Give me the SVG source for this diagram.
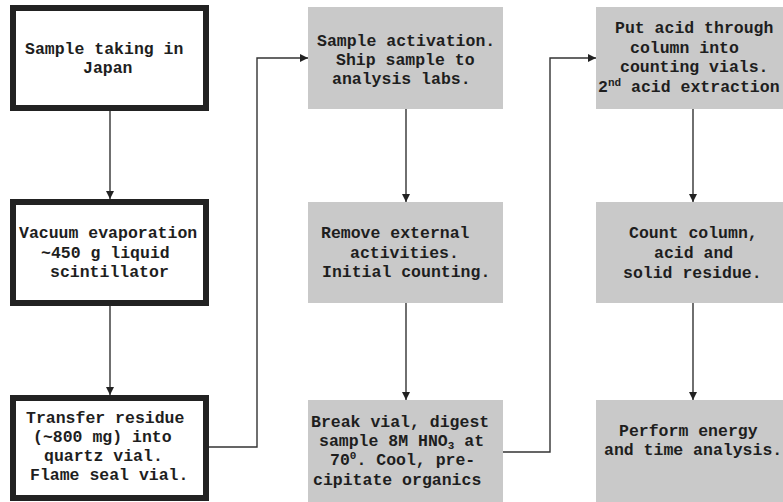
<svg xmlns="http://www.w3.org/2000/svg" width="783" height="502" viewBox="0 0 783 502">
<style>
.t{font-family:"Liberation Mono","Courier New",monospace;font-weight:bold;font-size:16.5px;fill:#1e1e1e}
.w{fill:#fff;stroke:#222;stroke-width:6}
.g{fill:#c9c9c9;stroke:none}
.c{fill:none;stroke:#333;stroke-width:1.4}
.s{font-size:11px}
</style>
<defs>
<marker id="ah" markerUnits="userSpaceOnUse" markerWidth="8" markerHeight="8" viewBox="0 0 8 8" refX="8" refY="4" orient="auto">
<path d="M0,0 L8,4 L0,8 Z" fill="#222"/>
</marker>
</defs>
<g id="connectors">
<path class="c" d="M110,111 V199" marker-end="url(#ah)"/>
<path class="c" d="M110,306 V395" marker-end="url(#ah)"/>
<path class="c" d="M209,447 H257 V58 H308" marker-end="url(#ah)"/>
<path class="c" d="M406,109 V202" marker-end="url(#ah)"/>
<path class="c" d="M406,303 V400" marker-end="url(#ah)"/>
<path class="c" d="M503,452 H550 V58 H596" marker-end="url(#ah)"/>
<path class="c" d="M693,109 V202" marker-end="url(#ah)"/>
<path class="c" d="M693,303 V400" marker-end="url(#ah)"/>
</g>
<g id="n1">
<rect class="w" x="13" y="8" width="193" height="100"/>
<text class="t"><tspan x="25" y="54">Sample taking in</tspan><tspan x="83" y="73">Japan</tspan></text>
</g>
<g id="n2">
<rect class="w" x="13" y="202" width="193" height="101"/>
<text class="t"><tspan x="19" y="238">Vacuum evaporation</tspan><tspan x="41" y="258">~450 g liquid</tspan><tspan x="50" y="277">scintillator</tspan></text>
</g>
<g id="n3">
<rect class="w" x="13" y="398" width="193" height="100"/>
<text class="t"><tspan x="26" y="423">Transfer residue</tspan><tspan x="33" y="442">(~800 mg) into</tspan><tspan x="44" y="461">quartz vial.</tspan><tspan x="30" y="480">Flame seal vial.</tspan></text>
</g>
<g id="n4">
<rect class="g" x="308" y="7" width="195" height="102"/>
<text class="t"><tspan x="317" y="46">Sample activation.</tspan><tspan x="336" y="65">Ship sample to</tspan><tspan x="332" y="84">analysis labs.</tspan></text>
</g>
<g id="n5">
<rect class="g" x="308" y="202" width="195" height="101"/>
<text class="t"><tspan x="321" y="238">Remove external</tspan><tspan x="350" y="258">activities.</tspan><tspan x="322" y="277">Initial counting.</tspan></text>
</g>
<g id="n6">
<rect class="g" x="308" y="400" width="195" height="102"/>
<text class="t"><tspan x="311" y="427">Break vial, digest</tspan><tspan x="319" y="446">sample 8M HNO</tspan><tspan class="s" dy="3">3</tspan><tspan dy="-3"> at</tspan><tspan x="330" y="465">70</tspan><tspan class="s" dy="-6">0</tspan><tspan dy="6">. Cool, pre-</tspan><tspan x="313" y="485">cipitate organics</tspan></text>
</g>
<g id="n7">
<rect class="g" x="596" y="7" width="187" height="102"/>
<text class="t"><tspan x="615" y="33">Put acid through</tspan><tspan x="630" y="53">column into</tspan><tspan x="620" y="72">counting vials.</tspan><tspan x="598" y="92">2</tspan><tspan class="s" dy="-6">nd</tspan><tspan dy="6"> acid extraction</tspan></text>
</g>
<g id="n8">
<rect class="g" x="596" y="202" width="187" height="101"/>
<text class="t"><tspan x="629" y="238">Count column,</tspan><tspan x="654" y="258">acid and</tspan><tspan x="623" y="278">solid residue.</tspan></text>
</g>
<g id="n9">
<rect class="g" x="596" y="400" width="187" height="102"/>
<text class="t"><tspan x="619" y="436">Perform energy</tspan><tspan x="604" y="455">and time analysis.</tspan></text>
</g>
</svg>
